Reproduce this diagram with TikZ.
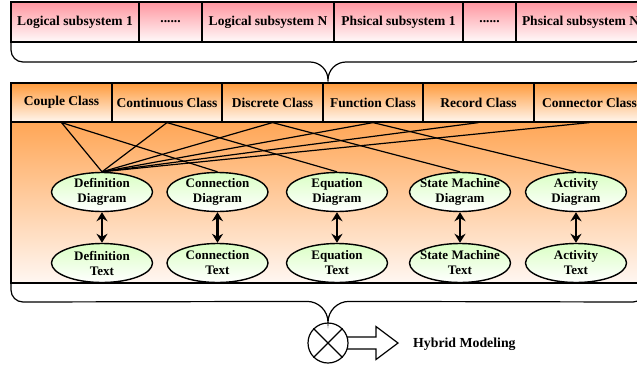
\documentclass[tikz,border=0pt]{standalone}
\usepackage{fontspec}
\setmainfont{Liberation Serif}
\usetikzlibrary{arrows.meta,shapes.geometric}

\definecolor{pinktop}{RGB}{255,150,160}
\definecolor{pinkbot}{RGB}{255,250,250}
\definecolor{orangetop}{RGB}{255,155,60}
\definecolor{orangebot}{RGB}{255,246,238}
\definecolor{paneltop}{RGB}{255,166,86}
\definecolor{panelbot}{RGB}{255,247,242}
\definecolor{greentop}{RGB}{218,255,196}

\newcommand{\sixdots}{......}

\tikzset{
  subsys/.style={draw, line width=1.2pt, minimum height=40pt, inner sep=0pt,
    top color=pinktop, bottom color=pinkbot, font=\fontsize{13.5}{15}\selectfont\bfseries},
  classbox/.style={draw, line width=1.2pt, minimum height=39pt, inner sep=0pt,
    top color=orangetop, bottom color=orangebot, font=\fontsize{13.5}{15}\selectfont\bfseries},
  diag/.style={ellipse, draw, line width=1.4pt, minimum width=101pt, minimum height=39pt,
    inner xsep=-5pt, inner ysep=0pt, top color=greentop, bottom color=white, align=center,
    font=\fontsize{13}{15}\selectfont\bfseries},
  link/.style={line width=1.2pt},
  brace/.style={line width=1.2pt},
  twoway/.style={line width=2.2pt, {Stealth[length=9pt,width=11pt]}-{Stealth[length=9pt,width=11pt]}}
}

\begin{document}
\begin{tikzpicture}[x=1pt, y=1pt]

\useasboundingbox (0,0) rectangle (637,368);
\clip (0,0) rectangle (637,368);

% Riga dei sottosistemi
\foreach \cx/\w/\nm/\txt in {75/128/ls1/Logical subsystem 1, 170.5/63/dots1/\sixdots,
    268/132/lsn/Logical subsystem N, 398.5/129/ps1/Phsical subsystem 1,
    489.5/53/dots2/\sixdots, 580.5/129/psn/Phsical subsystem N} {
    \node[subsys, minimum width=\w*1pt] (\nm) at (\cx,346) {\txt};
}

% Parentesi superiore
\draw[brace] (11,326) -- (11,318) arc[start angle=180, end angle=270, radius=12pt]
    -- (310,306) arc[start angle=90, end angle=0, radius=18pt]
    arc[start angle=180, end angle=90, radius=18pt]
    -- (633,306) arc[start angle=270, end angle=360, radius=12pt] -- (645,326);

% Pannello delle classi
\shade[top color=paneltop, bottom color=panelbot] (11,85) rectangle (645,246);
\draw[line width=1.2pt] (11,85) rectangle (645,285);

\foreach \cx/\w/\nm/\txt in {61.5/101/cp/Couple Class, 167/110/ct/Continuous Class,
    272.5/101/ds/Discrete Class, 373/100/fn/Function Class,
    478.5/111/rc/Record Class, 589.5/111/cn/Connector Class} {
    \node[classbox, minimum width=\w*1pt] (\nm) at (\cx,265.5) {\txt};
}

% Diagrammi e testi
\foreach \cx/\nm/\txt in {102/def/Definition, 217.5/con/Connection, 337/equ/Equation,
    460/stm/State Machine, 576/act/Activity} {
    \node[diag] (\nm-d) at (\cx,176) {\txt\\Diagram};
    \node[diag] (\nm-t) at (\cx,105) {\txt\\Text};
    \draw[twoway] (\nm-d) -- (\nm-t);
}

% Collegamenti classi -> diagrammi
\foreach \a/\b in {cp/def, cp/con, ct/def, ct/equ, ds/def, ds/stm, fn/def, fn/act, rc/def, cn/def} {
    \draw[link] (\a.south) -- (\b-d.north);
}

% Uscita
\coordinate (mc) at (328,25);
\draw[line width=1.2pt, fill=white] ([yshift=6pt]mc) -- ++(48,0) -- ++(0,10.5) -- ++(22,-16.5)
    -- ++(-22,-16.5) -- ++(0,10.5) -- ++(-48,0);
\node[circle, draw, line width=1.2pt, fill=white, minimum size=40pt, inner sep=0pt] (mux) at (mc) {};
\draw[line width=1.2pt] (mux.north west) -- (mux.south east) (mux.north east) -- (mux.south west);
\node[anchor=west, inner sep=0pt, font=\fontsize{13.8}{15}\selectfont\bfseries] (hyb) at (413,24) {Hybrid Modeling};

% Parentesi inferiore
\draw[brace] (11,85) -- (11,78) arc[start angle=180, end angle=270, radius=12pt]
    -- ([xshift=-21pt, yshift=21pt]mux.north) arc[start angle=90, end angle=0, radius=21pt]
    arc[start angle=180, end angle=90, radius=21pt]
    -- (633,66) arc[start angle=270, end angle=360, radius=12pt] -- (645,85);

\end{tikzpicture}
\end{document}
